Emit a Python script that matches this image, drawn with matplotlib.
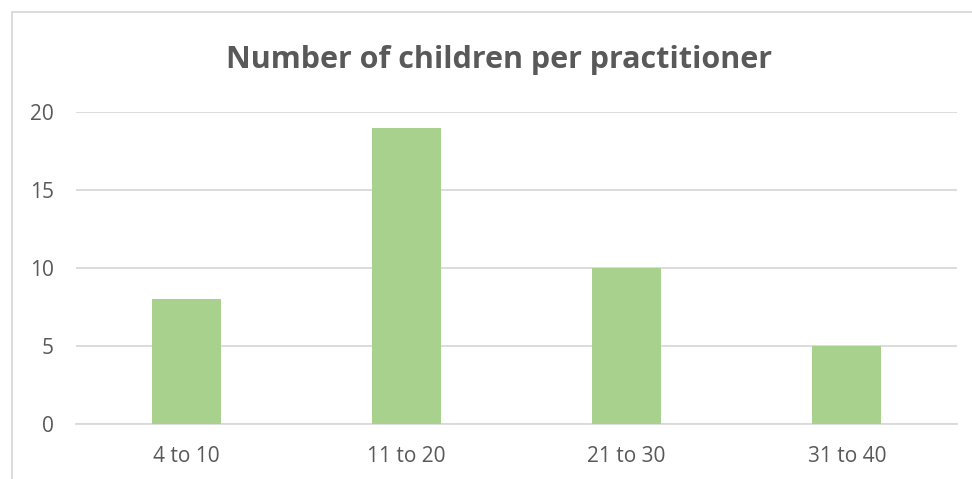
import matplotlib
matplotlib.use("Agg")
import matplotlib.pyplot as plt
from matplotlib.patches import Rectangle

categories = ["4 to 10", "11 to 20", "21 to 30", "31 to 40"]
values = [8, 19, 10, 5]
yticks = [0, 5, 10, 15, 20]

W, H = 972, 479
fig = plt.figure(figsize=(W/100, H/100), dpi=100)
plt.rcParams['font.family'] = ['Open Sans', 'DejaVu Sans']

# chart border (light gray), extends past right/bottom edges
fig.patches.append(Rectangle((12/W, -0.1), 1.2, 1 - 12/H + 0.1, transform=fig.transFigure,
                             fill=False, edgecolor='#d9d9d9', linewidth=1.3))

left, right = 76, 957
top, bottom = 112, 424
ax = fig.add_axes([left/W, 1 - bottom/H, (right-left)/W, (bottom-top)/H])
x = list(range(len(categories)))
ax.bar(x, values, width=0.313, color='#a9d18e', zorder=3)
ax.set_xlim(-0.5, len(categories) - 0.5)
ax.set_ylim(0, 20)
ax.set_yticks(yticks)
ax.set_xticks(x)
ax.set_xticklabels(categories)
ax.grid(axis='y', color='#d9d9d9', linewidth=1.3, zorder=0)
for s in ['top', 'right', 'left']:
    ax.spines[s].set_visible(False)
ax.spines['bottom'].set_color('#d9d9d9')
ax.spines['bottom'].set_linewidth(1.3)
ax.tick_params(axis='both', length=0, labelsize=15, labelcolor='#595959')
ax.tick_params(axis='y', pad=16)
ax.tick_params(axis='x', pad=16)

fig.text(499/W, 1 - 60/H, "Number of children per practitioner", ha='center', va='center',
         fontsize=22, fontweight='bold', color='#595959')

fig.savefig("out.png", dpi=100)
